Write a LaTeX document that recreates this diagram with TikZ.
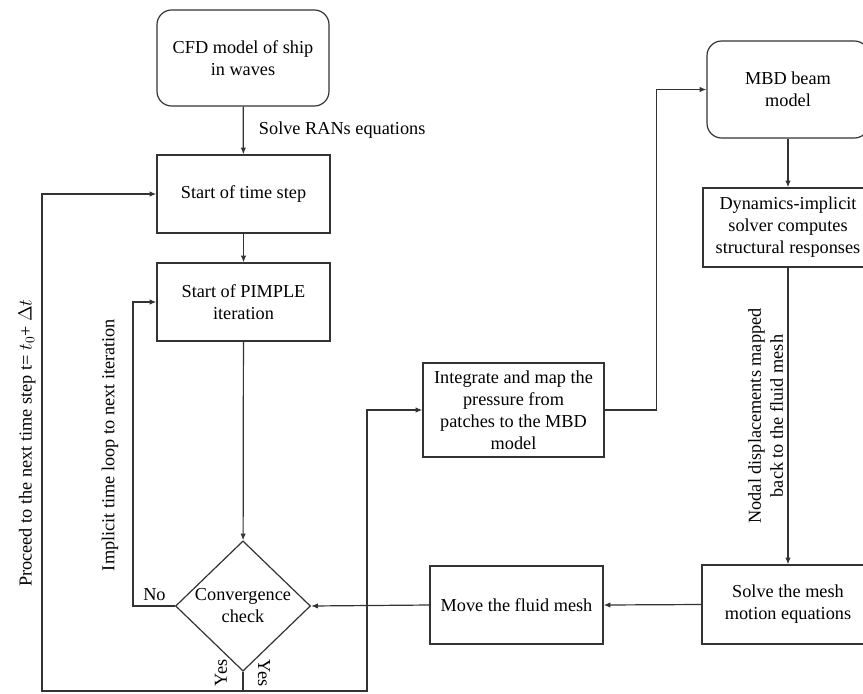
\documentclass[tikz,border=0pt]{standalone}
\usepackage{fontspec}
\setmainfont{Liberation Serif}
\usetikzlibrary{shapes.geometric,arrows.meta}

\begin{document}
\begin{tikzpicture}[x=0.75pt,y=-0.75pt,
  font=\fontsize{13.7}{16.5}\selectfont,
  box/.style={draw=black!80,line width=0.9pt,align=center,inner sep=2pt},
  rbox/.style={box,rounded corners=11pt},
  flow/.style={draw=black!80,line width=0.9pt,-{Latex[length=5pt,width=4pt]}},
  line/.style={draw=black!80,line width=0.9pt}]
\clip (0,0) rectangle (863,693);
\node (cfd) [rbox,minimum width=129pt,minimum height=72pt] at (243,58) {CFD model of ship\\in waves};
\node (tstep) [box,minimum width=129.75pt,minimum height=58.5pt] at (243.5,194) {Start of time step};
\node (pimple) [box,minimum width=129.75pt,minimum height=58.5pt] at (243.5,302) {Start of PIMPLE\\iteration};
\node (conv) [diamond,draw=black!80,line width=0.9pt,inner sep=0pt,align=center,minimum width=101.25pt,minimum height=93.75pt] at (243,606) {Convergence\\check};
\node (integ) [box,minimum width=135.75pt,minimum height=70.5pt] at (513.5,410) {Integrate and map the\\pressure from\\patches to the MBD\\model};
\node (mbd) [rbox,minimum width=121.5pt,minimum height=72.75pt] at (788,89.5) {MBD beam\\model};
\node (dyn) [box,minimum width=127.5pt,minimum height=59.25pt] at (788,227.5) {Dynamics-implicit\\solver computes\\structural responses};
\node (solve) [box,minimum width=129pt,minimum height=59.25pt] at (788,604.5) {Solve the mesh\\motion equations};
\node (move) [box,minimum width=129.75pt,minimum height=58.5pt] at (516.5,605) {Move the fluid mesh};
\coordinate (ybot) at (243,691);
\coordinate (lbot) at (42,691);
\coordinate (rbot) at (367,691);

\draw[flow] (cfd) -- node[right,xshift=8pt] {Solve RANs equations} (tstep);
\draw[flow] (tstep) -- (pimple);
\draw[flow] (pimple) -- (conv);
\draw[flow] (conv.west) -- ++(-42,0) node[above right,xshift=4pt] {No} |- (pimple.west);
\draw[line] (conv.south) -- (ybot);
\draw[flow] (ybot) -- (lbot) |- (tstep.west);
\draw[flow] (ybot) -- (rbot) |- (integ.west);
\draw[flow] (integ.east) -- ++(52,0) |- (mbd.west);
\draw[flow] (mbd) -- (dyn);
\draw[flow] (dyn) -- node[above,rotate=90,align=center] {Nodal displacements mapped\\back to the fluid mesh} (solve);
\draw[flow] (solve.west) -- (move.east);
\draw[flow] (move.west) -- (conv.east);

\node (proceed) [rotate=90] at (27,443) {Proceed to the next time step t= $t_0$+ $\Delta t$};
\node (implicit) [rotate=90] at (110,445) {Implicit time loop to next iteration};
\node (yesl) [rotate=90] at (221,673) {Yes};
\node (yesr) [rotate=-90] at (264,673) {Yes};
\end{tikzpicture}
\end{document}
